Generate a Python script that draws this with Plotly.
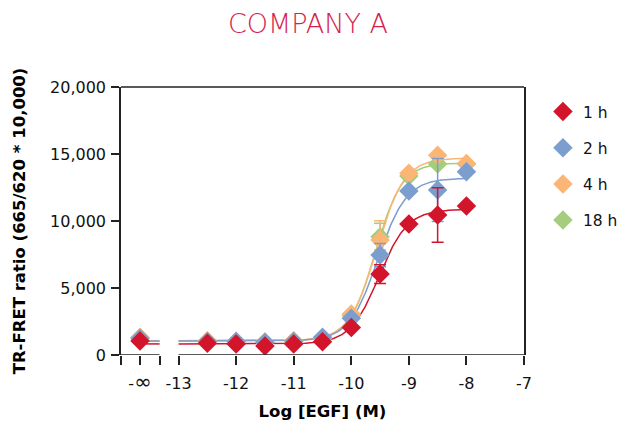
import numpy as np
import plotly.graph_objects as go

# ---------------- data ----------------
x_tick_vals = [-13, -12, -11, -10, -9, -8, -7]
x_tick_text = ["-13", "-12", "-11", "-10", "-9", "-8", "-7"]
neg_inf_label = "-<span style='font-size:21px'>∞</span>"
log_egf = [-12.5, -12, -11.5, -11, -10.5, -10, -9.5, -9, -8.5, -8]
series_names = ["1 h", "2 h", "4 h", "18 h"]

zero_1h = 1050
vals_1h = [870, 820, 670, 820, 990, 2060, 6040, 9780, 10450, 11120]
err_1h = [0, 0, 0, 0, 0, 0, 700, 0, 2030, 0]

zero_2h = 1240
vals_2h = [1000, 1000, 960, 1000, 1320, 2740, 7460, 12240, 12310, 13680]
err_2h = [0, 0, 0, 0, 0, 0, 870, 0, 2350, 0]

zero_4h = 1320
vals_4h = [1060, 1030, 970, 1060, 1260, 3060, 8580, 13560, 14900, 14300]
err_4h = [0, 0, 0, 0, 0, 0, 1440, 0, 0, 0]

zero_18h = 1280
vals_18h = [1040, 1010, 960, 1040, 1230, 2950, 8830, 13360, 14250, 14250]
err_18h = [0, 0, 0, 0, 0, 0, 1000, 0, 0, 0]

colors = ["#d2152b", "#7b9ecf", "#fbb574", "#a5cd7e"]

y_ticks = [0, 5000, 10000, 15000, 20000]

# ---------------- layout constants (not data) ----------------
X_MIN, X_MAX = -14, -7
X_NEG_INF = -13.67
X_BREAK = -13.33
OFF = 8  # default body margin of the html page
W, H = 627, 427


def fit4pl(x, y, y0):
    """Least-squares 4-parameter logistic fit (grid over EC50/hill, linear for bottom/top)."""
    x = np.asarray(x, float)
    y = np.asarray(y, float)
    xs = np.append(x, -np.inf)
    ys = np.append(y, y0)
    best = None
    for c in np.arange(-10.5, -8.5, 0.01):
        for h in np.arange(0.8, 3.0, 0.05):
            with np.errstate(over="ignore"):
                f = 1.0 / (1.0 + 10 ** ((c - xs) * h))
            A = np.column_stack([1 - f, f])
            coef, *_ = np.linalg.lstsq(A, ys, rcond=None)
            sse = np.sum((A @ coef - ys) ** 2)
            if best is None or sse < best[0]:
                best = (sse, c, h, coef[0], coef[1])
    return best[1:]


series = [
    (zero_1h, vals_1h, err_1h),
    (zero_2h, vals_2h, err_2h),
    (zero_4h, vals_4h, err_4h),
    (zero_18h, vals_18h, err_18h),
]

fig = go.Figure()

draw_order = [3, 2, 1, 0]
for i in draw_order:
    z, v, e = series[i]
    c, h, bot, top = fit4pl(log_egf, v, z)
    xc = np.linspace(-13, -8, 300)
    yc = bot + (top - bot) / (1 + 10 ** ((c - xc) * h))
    fig.add_trace(go.Scatter(x=xc, y=yc, mode="lines",
                             line=dict(color=colors[i], width=1.5),
                             showlegend=False, hoverinfo="skip"))
    fig.add_trace(go.Scatter(x=[X_NEG_INF, X_BREAK], y=[bot, bot], mode="lines",
                             line=dict(color=colors[i], width=1.5),
                             showlegend=False, hoverinfo="skip"))

for i in draw_order:
    z, v, e = series[i]
    xs = [X_NEG_INF] + log_egf
    ys = [z] + v
    es = [0] + e
    fig.add_trace(go.Scatter(
        x=xs, y=ys, mode="markers", name=series_names[i],
        marker=dict(symbol="diamond", size=15, color=colors[i]),
        error_y=dict(type="data", array=es, visible=True, color=colors[i],
                     thickness=1.5, width=6),
        legendrank=i + 1, legendgroup=series_names[i],
    ))

axis_color = "#222222"
fig.update_layout(
    width=W, height=H,
    margin=dict(l=121 - OFF, r=W - (527 - OFF), t=87 - OFF, b=H - (355 - OFF)),
    paper_bgcolor="white", plot_bgcolor="white",
    title=dict(text="COMPANY A", x=(308 - OFF) / W, xanchor="center",
               y=1 - 6 / H, yanchor="top", pad=dict(t=0, b=0),
               font=dict(family="DejaVu Sans", weight=200, size=27, color="#d81e4f")),
    font=dict(family="DejaVu Sans", color="#111111"),
    showlegend=True,
    legend=dict(x=1.047, y=0.97, xanchor="left", yanchor="top",
                font=dict(size=15.5, family="DejaVu Sans", color="#111"),
                tracegroupgap=13, itemwidth=30, bgcolor="rgba(0,0,0,0)"),
    xaxis=dict(range=[X_MIN, X_MAX],
               tickvals=[X_MIN, X_NEG_INF, X_BREAK] + x_tick_vals,
               ticktext=["", neg_inf_label, ""] + x_tick_text,
               ticks="outside", ticklen=9, tickwidth=1.5, tickcolor=axis_color,
               ticklabelstandoff=5,
               showline=False, showgrid=False, zeroline=False, automargin=False,
               tickfont=dict(size=16, family="DejaVu Sans", color="#111"),
               title=dict(text="<b>Log [EGF] (M)</b>", standoff=12,
                          font=dict(size=16.5, family="DejaVu Sans", color="#000"))),
    yaxis=dict(range=[0, 20000], tickvals=y_ticks, tickformat=",",
               ticks="outside", ticklen=8, tickwidth=1.5, tickcolor=axis_color,
               ticklabelstandoff=2,
               showline=True, linewidth=1.5, linecolor=axis_color, mirror=True,
               showgrid=False, zeroline=False, automargin=False,
               tickfont=dict(size=16, family="DejaVu Sans", color="#111"),
               title=dict(text="<b>TR-FRET ratio (665/620 * 10,000)</b>", standoff=20,
                          font=dict(size=16.5, family="DejaVu Sans", color="#000"))),
    shapes=[
        dict(type="line", xref="x", yref="y", x0=X_MIN, x1=X_BREAK, y0=0, y1=0,
             line=dict(color=axis_color, width=1.5)),
        dict(type="line", xref="x", yref="y", x0=-13, x1=X_MAX, y0=0, y1=0,
             line=dict(color=axis_color, width=1.5)),
        dict(type="line", xref="paper", yref="paper", x0=0, x1=1, y0=1, y1=1,
             line=dict(color=axis_color, width=1.5)),
    ],
)

fig.write_html("out.html", config={"displayModeBar": False})
